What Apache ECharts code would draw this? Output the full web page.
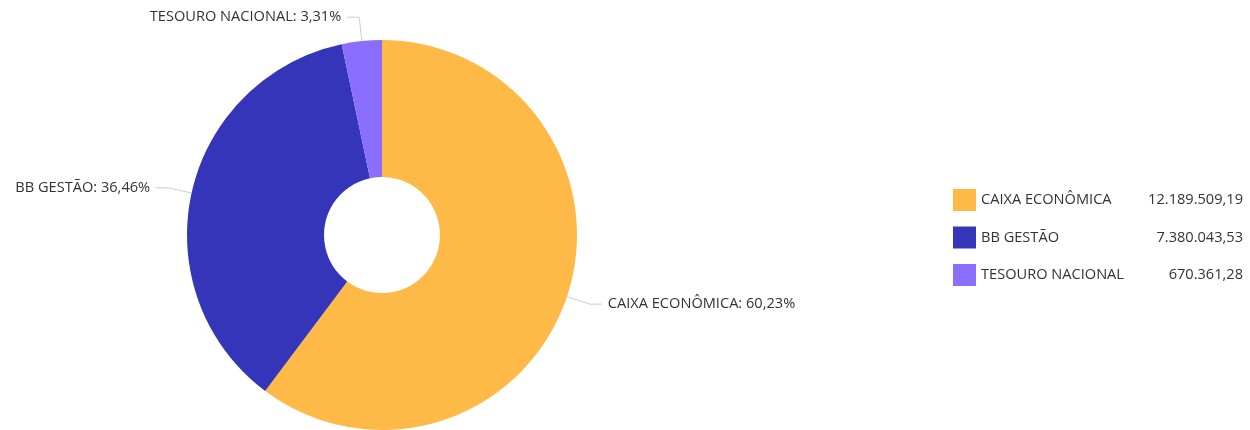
<!DOCTYPE html>
<html><head><meta charset="utf-8">
<script src="https://cdn.jsdelivr.net/npm/echarts@6/dist/echarts.min.js"></script>
<style>html,body{margin:0;padding:0;background:#fff}#c{width:1250px;height:430px}</style>
</head><body><div id="c"></div>
<script>
const categories = ['CAIXA ECONÔMICA', 'BB GESTÃO', 'TESOURO NACIONAL'];
const values = [12189509.19, 7380043.53, 670361.28];
const colors = ['#FFB946', '#3535B9', '#8A6FFF'];

function fmtNum(v) {
  const parts = v.toFixed(2).split('.');
  parts[0] = parts[0].replace(/\B(?=(\d{3})+(?!\d))/g, '.');
  return parts[0] + ',' + parts[1];
}
const total = values.reduce((a, b) => a + b, 0);
const valueByName = {};
categories.forEach((c, i) => valueByName[c] = values[i]);

const FS = 14.6;
const chart = echarts.init(document.getElementById('c'));
chart.setOption({
  animation: false,
  color: colors,
  textStyle: { fontFamily: 'Open Sans' },
  legend: {
    orient: 'vertical',
    left: 948,
    top: 184,
    itemWidth: 23,
    itemHeight: 22,
    itemGap: 15.5,
    icon: 'rect',
    data: categories,
    formatter: function (name) {
      return '{n|' + name + '}{v|' + fmtNum(valueByName[name]) + '}';
    },
    textStyle: {
      fontFamily: 'Open Sans',
      fontSize: FS,
      color: '#333',
      rich: {
        n: { width: 170, fontSize: FS, color: '#333', fontFamily: 'Open Sans' },
        v: { width: 92, align: 'right', fontSize: FS, color: '#333', fontFamily: 'Open Sans' }
      }
    }
  },
  series: [{
    type: 'pie',
    center: [382, 235],
    radius: [58, 195],
    startAngle: 90,
    clockwise: true,
    data: categories.map((c, i) => ({ name: c, value: values[i] })),
    label: {
      show: true,
      fontFamily: 'Open Sans',
      fontSize: FS,
      color: '#333',
      distanceToLabelLine: 6,
      formatter: function (p) {
        return p.name + ': ' + (p.value / total * 100).toFixed(2).replace('.', ',') + '%';
      }
    },
    labelLine: { show: true, length: 24, length2: 12, lineStyle: { color: '#ccc', width: 1 } },
    itemStyle: { borderWidth: 0 },
    emphasis: { disabled: true }
  }]
});
</script></body></html>
